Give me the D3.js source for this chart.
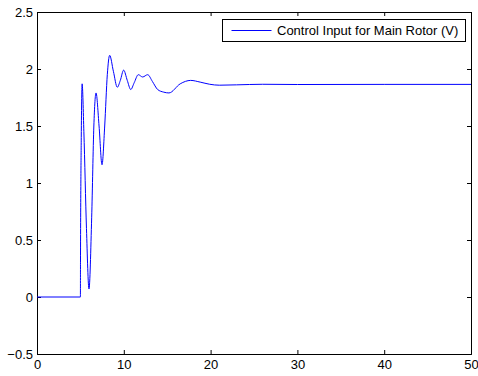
<!DOCTYPE html>
<html>
<head>
<meta charset="utf-8">
<script src="https://cdn.jsdelivr.net/npm/d3@7"></script>
<style>
  html, body { margin: 0; padding: 0; background: #fff; }
  svg { display: block; }
</style>
</head>
<body>
<svg id="chart" width="478" height="376"></svg>
<script>
(function () {
  'use strict';

  // values (time in s, control input in V)
  const timeVals = [0, 5.0, 5.01, 5.1, 5.2, 5.4, 5.7, 5.99, 6.3, 6.55, 6.8, 7.15, 7.49, 7.8, 8.1, 8.37,
    8.8, 9.25, 9.6, 9.98, 10.4, 10.8, 11.2, 11.67, 12.17, 12.75, 13.3, 13.9, 14.6, 15.2, 16.5, 17.7,
    18.8, 19.9, 21, 23, 26, 30, 40, 50];
  const inputVals = [0, 0, 0.3, 1.4, 1.87, 1.45, 0.6, 0.07, 0.7, 1.5, 1.79, 1.5, 1.16, 1.5, 1.95, 2.12,
    1.98, 1.84, 1.9, 1.99, 1.9, 1.82, 1.88, 1.95, 1.93, 1.95, 1.89, 1.82, 1.797, 1.79, 1.87, 1.9,
    1.885, 1.866, 1.858, 1.861, 1.866, 1.864, 1.865, 1.865];
  const xTicks = [0, 10, 20, 30, 40, 50];
  const yTicks = [-0.5, 0, 0.5, 1, 1.5, 2, 2.5];
  const legendLabel = 'Control Input for Main Rotor (V)';

  const font = '"Liberation Sans", Arial, Helvetica, sans-serif';
  const margin = { top: 12, right: 7, bottom: 22, left: 37 };
  const W = 478, H = 376;
  const iw = W - margin.left - margin.right;
  const ih = H - margin.top - margin.bottom;

  const svg = d3.select('#chart');
  const g = svg.append('g').attr('transform', `translate(${margin.left},${margin.top})`);

  const x = d3.scaleLinear().domain([0, 50]).range([0, iw]);
  const y = d3.scaleLinear().domain([-0.5, 2.5]).range([ih, 0]);

  const fmt = (d) => (d < 0 ? '\u2212' + Math.abs(d) : String(d));

  // axes with inward ticks on all four sides (matlab box style)
  const axB = g.append('g').attr('transform', `translate(0,${ih})`)
    .call(d3.axisBottom(x).tickValues(xTicks).tickSize(-4).tickPadding(6).tickFormat(fmt));
  const axT = g.append('g')
    .call(d3.axisTop(x).tickValues(xTicks).tickSize(-4).tickFormat(''));
  const axL = g.append('g')
    .call(d3.axisLeft(y).tickValues(yTicks).tickSize(-4).tickPadding(4).tickFormat(fmt));
  const axR = g.append('g').attr('transform', `translate(${iw},0)`)
    .call(d3.axisRight(y).tickValues(yTicks).tickSize(-4).tickFormat(''));

  [axB, axT, axL, axR].forEach((a) => {
    a.select('.domain').attr('stroke', '#000').attr('stroke-width', 1);
    a.selectAll('.tick line').attr('stroke', '#000');
    a.selectAll('text').style('font-family', font).style('font-size', '13px').attr('fill', '#000');
  });
  axL.selectAll('text').attr('x', -4);

  // data line
  const pts = timeVals.map((t, i) => [t, inputVals[i]]);
  const line = d3.line().x((d) => x(d[0])).y((d) => y(d[1])).curve(d3.curveMonotoneX);
  g.append('path').datum(pts).attr('d', line)
    .attr('fill', 'none').attr('stroke', '#0000ff').attr('stroke-width', 1);

  // legend
  const lg = svg.append('g').attr('transform', 'translate(222.5,19.5)');
  lg.append('rect').attr('width', 243).attr('height', 22)
    .attr('fill', '#fff').attr('stroke', '#000').attr('stroke-width', 1);
  lg.append('line').attr('x1', 9).attr('x2', 49).attr('y1', 11).attr('y2', 11)
    .attr('stroke', '#0000ff').attr('stroke-width', 1);
  lg.append('text').attr('x', 54.5).attr('y', 15.5)
    .style('font-family', font).style('font-size', '13px').attr('fill', '#000')
    .text(legendLabel);
})();
</script>
</body>
</html>
